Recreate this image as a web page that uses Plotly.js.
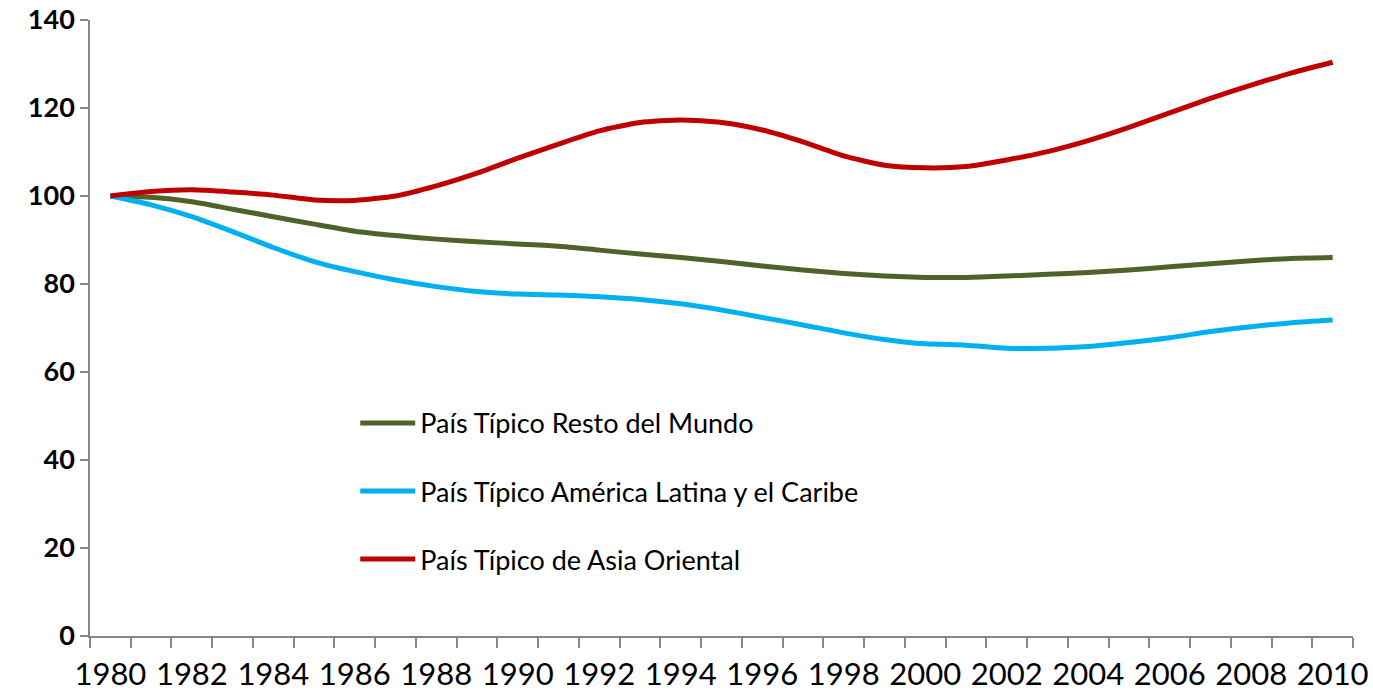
<!DOCTYPE html>
<html>
<head>
<meta charset="utf-8">
<script src="https://cdn.plot.ly/plotly-3.0.1.min.js"></script>
<style>html,body{margin:0;padding:0;background:#fff;}#chart{width:1373px;height:700px;}</style>
</head>
<body>
<div id="chart"></div>
<script>
const years = [1980,1981,1982,1983,1984,1985,1986,1987,1988,1989,1990,1991,1992,1993,1994,1995,1996,1997,1998,1999,2000,2001,2002,2003,2004,2005,2006,2007,2008,2009,2010];
const restoMundo = [100,99.7,98.7,97.0,95.3,93.6,92.0,91.0,90.2,89.6,89.1,88.6,87.7,86.8,86.0,85.1,84.1,83.2,82.4,81.8,81.5,81.5,81.8,82.2,82.6,83.2,83.9,84.6,85.3,85.8,86.0];
const americaLatina = [100,98.0,95.3,91.9,88.3,85.1,82.8,80.9,79.4,78.3,77.7,77.5,77.1,76.5,75.5,74.1,72.4,70.7,68.9,67.4,66.4,66.1,65.4,65.4,65.8,66.7,67.8,69.2,70.3,71.2,71.8];
const asiaOriental = [100,101.0,101.4,100.9,100.2,99.1,99.0,100.0,102.3,105.2,108.6,111.8,114.8,116.7,117.3,116.7,115.0,112.3,109.1,107.0,106.4,106.7,108.2,110.1,112.6,115.6,118.9,122.2,125.2,128.0,130.4];
const seriesNames = ["País Típico Resto del Mundo","País Típico América Latina y el Caribe","País Típico de Asia Oriental"];
const seriesColors = ["#4F6228","#00B0F0","#C00000"];
const yTicks = [0,20,40,60,80,100,120,140];
const xTickYears = [1980,1982,1984,1986,1988,1990,1992,1994,1996,1998,2000,2002,2004,2006,2008,2010];

const allSeries = [restoMundo, americaLatina, asiaOriental];
const traces = allSeries.map((vals, i) => ({
  x: years, y: vals, type: 'scatter', mode: 'lines', name: seriesNames[i],
  legendgroup: 'g' + i,
  line: {color: seriesColors[i], width: 5, shape: 'spline', smoothing: 0.6},
  hoverinfo: 'x+y+name'
}));

const layout = {
  width: 1373, height: 700,
  margin: {l: 90, r: 20, t: 20, b: 64},
  paper_bgcolor: '#fff', plot_bgcolor: '#fff',
  font: {family: 'Lato, "Open Sans", sans-serif', color: '#000'},
  showlegend: true,
  legend: {
    x: 0.21, y: 0.385, xanchor: 'left', yanchor: 'top',
    font: {size: 27, color: '#000'},
    tracegroupgap: 30, itemwidth: 55,
    bgcolor: 'rgba(0,0,0,0)'
  },
  xaxis: {
    range: [1979.5, 2010.5], tickmode: 'array', tickvals: xTickYears, ticktext: xTickYears.map(String),
    ticks: '', showgrid: false, zeroline: false,
    showline: true, linecolor: '#868686', linewidth: 1.5,
    tickfont: {size: 31, color: '#000'},
    ticklabelstandoff: 10,
    minor: {tick0: 1979.5, dtick: 1, ticks: 'outside', ticklen: 10, tickwidth: 1.5, tickcolor: '#868686', showgrid: false}
  },
  yaxis: {
    range: [0, 140], tickmode: 'array', tickvals: yTicks, ticktext: yTicks.map(String),
    ticks: 'outside', ticklen: 8, tickwidth: 1.5, tickcolor: '#868686',
    showgrid: false, zeroline: false,
    showline: true, linecolor: '#868686', linewidth: 1.5,
    tickfont: {size: 27, color: '#000', weight: 'bold'}
  }
};
Plotly.newPlot('chart', traces, layout, {displayModeBar: false, responsive: false});
</script>
</body>
</html>
